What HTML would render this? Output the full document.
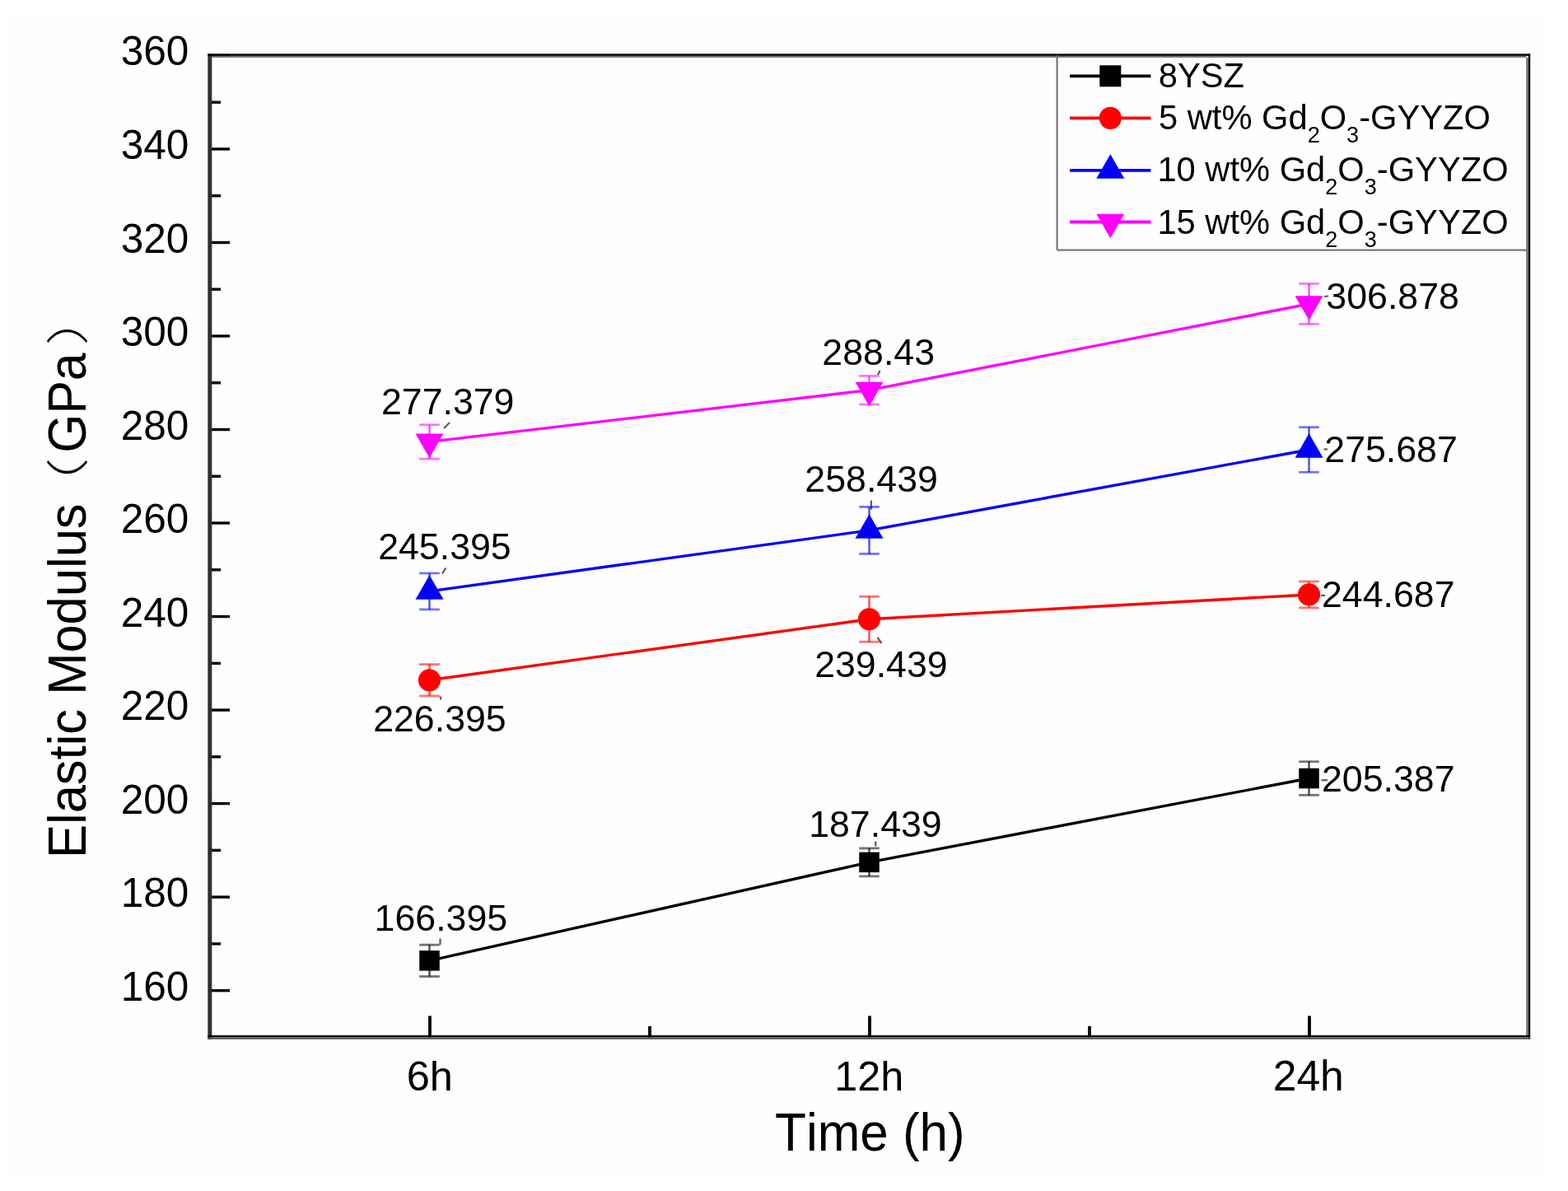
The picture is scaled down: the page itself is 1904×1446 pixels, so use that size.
<!DOCTYPE html>
<html><head><meta charset="utf-8"><title>Elastic Modulus vs Time</title>
<style>
html,body{margin:0;padding:0;background:#fff;}
body{width:1904px;height:1446px;overflow:hidden;}
svg{display:block;}
text{font-kerning:none;}
</style></head><body>
<svg width="1904" height="1446" viewBox="0 0 1904 1446">
<rect x="0" y="0" width="1904" height="1446" fill="#ffffff"/>
<rect x="6" y="13" width="1872" height="1419" fill="#fefefe"/>
<line x1="254.8" y1="1202.64" x2="279" y2="1202.64" stroke="#000" stroke-width="3.4"/>
<line x1="254.8" y1="1089.12" x2="279" y2="1089.12" stroke="#000" stroke-width="3.4"/>
<line x1="254.8" y1="975.60" x2="279" y2="975.60" stroke="#000" stroke-width="3.4"/>
<line x1="254.8" y1="862.08" x2="279" y2="862.08" stroke="#000" stroke-width="3.4"/>
<line x1="254.8" y1="748.56" x2="279" y2="748.56" stroke="#000" stroke-width="3.4"/>
<line x1="254.8" y1="635.04" x2="279" y2="635.04" stroke="#000" stroke-width="3.4"/>
<line x1="254.8" y1="521.52" x2="279" y2="521.52" stroke="#000" stroke-width="3.4"/>
<line x1="254.8" y1="408.00" x2="279" y2="408.00" stroke="#000" stroke-width="3.4"/>
<line x1="254.8" y1="294.48" x2="279" y2="294.48" stroke="#000" stroke-width="3.4"/>
<line x1="254.8" y1="180.96" x2="279" y2="180.96" stroke="#000" stroke-width="3.4"/>
<line x1="254.8" y1="67.44" x2="279" y2="67.44" stroke="#000" stroke-width="3.4"/>
<line x1="254.8" y1="1145.88" x2="268" y2="1145.88" stroke="#000" stroke-width="3.4"/>
<line x1="254.8" y1="1032.36" x2="268" y2="1032.36" stroke="#000" stroke-width="3.4"/>
<line x1="254.8" y1="918.84" x2="268" y2="918.84" stroke="#000" stroke-width="3.4"/>
<line x1="254.8" y1="805.32" x2="268" y2="805.32" stroke="#000" stroke-width="3.4"/>
<line x1="254.8" y1="691.80" x2="268" y2="691.80" stroke="#000" stroke-width="3.4"/>
<line x1="254.8" y1="578.28" x2="268" y2="578.28" stroke="#000" stroke-width="3.4"/>
<line x1="254.8" y1="464.76" x2="268" y2="464.76" stroke="#000" stroke-width="3.4"/>
<line x1="254.8" y1="351.24" x2="268" y2="351.24" stroke="#000" stroke-width="3.4"/>
<line x1="254.8" y1="237.72" x2="268" y2="237.72" stroke="#000" stroke-width="3.4"/>
<line x1="254.8" y1="124.20" x2="268" y2="124.20" stroke="#000" stroke-width="3.4"/>
<line x1="522.00" y1="1259.4" x2="522.00" y2="1233.4" stroke="#000" stroke-width="3.8"/>
<line x1="1056.00" y1="1259.4" x2="1056.00" y2="1233.4" stroke="#000" stroke-width="3.8"/>
<line x1="1590.00" y1="1259.4" x2="1590.00" y2="1233.4" stroke="#000" stroke-width="3.8"/>
<line x1="789.00" y1="1259.4" x2="789.00" y2="1245.8" stroke="#000" stroke-width="3.8"/>
<line x1="1323.00" y1="1259.4" x2="1323.00" y2="1245.8" stroke="#000" stroke-width="3.8"/>
<rect x="252.3" y="65.3" width="5" height="1196.5" fill="#303030"/>
<rect x="252.3" y="65.3" width="1605.8" height="2.6" fill="#050505"/>
<rect x="257.3" y="67.9" width="1596" height="2.0" fill="#707070"/>
<rect x="1855.9" y="65.3" width="2.3" height="1196.5" fill="#000"/>
<rect x="1853.2" y="69.9" width="2.7" height="1187.1" fill="#6e6e6e"/>
<rect x="252.3" y="1257.0" width="1605.8" height="2.3" fill="#000"/>
<rect x="252.3" y="1259.3" width="1605.8" height="2.5" fill="#555"/>
<g font-family='"Liberation Sans", Arial, sans-serif' fill="#000">
<text x="146.64" y="1214.68" font-size="49.5">160</text>
<text x="146.64" y="1101.16" font-size="49.5">180</text>
<text x="146.64" y="987.64" font-size="49.5">200</text>
<text x="146.64" y="874.12" font-size="49.5">220</text>
<text x="146.64" y="760.60" font-size="49.5">240</text>
<text x="146.64" y="647.08" font-size="49.5">260</text>
<text x="146.64" y="533.56" font-size="49.5">280</text>
<text x="146.64" y="420.04" font-size="49.5">300</text>
<text x="146.64" y="306.52" font-size="49.5">320</text>
<text x="146.64" y="193.00" font-size="49.5">340</text>
<text x="146.64" y="79.48" font-size="49.5">360</text>
<text x="493.77" y="1323.75" font-size="50.5">6h</text>
<text x="1013.17" y="1323.96" font-size="50.4">12h</text>
<text x="1545.73" y="1324.39" font-size="51.6">24h</text>
<g transform="translate(0 -68.73) scale(1 1.05)"><text x="941.04" y="1396.34" font-size="62">Time (h)</text></g>
</g>
<g transform="translate(103.6 1037.0) rotate(-90)" fill="#000"><text transform="scale(1 1.05)" x="-5.04" y="0" font-size="61.5" font-family='"Liberation Sans", Arial, sans-serif'>Elastic Modulus</text><text transform="translate(413.1 -2.6) scale(1.32 1)" x="0" y="0" font-size="51.8" font-weight="300" font-family='"Noto Sans CJK SC", "Noto Sans CJK JP", sans-serif'>（</text><text transform="scale(1 1.06)" x="487.36" y="0" font-size="60.5" font-family='"Liberation Sans", Arial, sans-serif'>GPa</text><text transform="translate(617.4 -3.0) scale(1.32 1)" x="0" y="0" font-size="51.8" font-weight="300" font-family='"Noto Sans CJK SC", "Noto Sans CJK JP", sans-serif'>）</text></g>
<g stroke="#000000" fill="none"><line x1="521.50" y1="1147.14" x2="521.50" y2="1185.54" stroke-width="2.4" stroke-opacity="0.7"/><line x1="509.20" y1="1147.14" x2="533.80" y2="1147.14" stroke-width="2.8" stroke-opacity="0.55"/><line x1="509.20" y1="1185.54" x2="533.80" y2="1185.54" stroke-width="2.8" stroke-opacity="0.55"/></g>
<g stroke="#000000" fill="none"><line x1="1055.50" y1="1029.90" x2="1055.50" y2="1063.90" stroke-width="2.4" stroke-opacity="0.7"/><line x1="1043.20" y1="1029.90" x2="1067.80" y2="1029.90" stroke-width="2.8" stroke-opacity="0.55"/><line x1="1043.20" y1="1063.90" x2="1067.80" y2="1063.90" stroke-width="2.8" stroke-opacity="0.55"/></g>
<g stroke="#000000" fill="none"><line x1="1589.50" y1="924.72" x2="1589.50" y2="965.32" stroke-width="2.4" stroke-opacity="0.7"/><line x1="1577.20" y1="924.72" x2="1601.80" y2="924.72" stroke-width="2.8" stroke-opacity="0.55"/><line x1="1577.20" y1="965.32" x2="1601.80" y2="965.32" stroke-width="2.8" stroke-opacity="0.55"/></g>
<polyline points="521.50,1166.34 1055.50,1046.90 1589.50,945.02" fill="none" stroke="#000000" stroke-width="3.4" stroke-linejoin="round"/>
<rect x="509.25" y="1154.09" width="24.50" height="24.50" fill="#000000"/>
<rect x="1043.25" y="1034.65" width="24.50" height="24.50" fill="#000000"/>
<rect x="1577.25" y="932.77" width="24.50" height="24.50" fill="#000000"/>
<g stroke="#ff0000" fill="none"><line x1="521.50" y1="806.58" x2="521.50" y2="844.98" stroke-width="2.4" stroke-opacity="0.7"/><line x1="509.20" y1="806.58" x2="533.80" y2="806.58" stroke-width="2.8" stroke-opacity="0.55"/><line x1="509.20" y1="844.98" x2="533.80" y2="844.98" stroke-width="2.8" stroke-opacity="0.55"/></g>
<g stroke="#ff0000" fill="none"><line x1="1055.50" y1="724.24" x2="1055.50" y2="779.24" stroke-width="2.4" stroke-opacity="0.7"/><line x1="1043.20" y1="724.24" x2="1067.80" y2="724.24" stroke-width="2.8" stroke-opacity="0.55"/><line x1="1043.20" y1="779.24" x2="1067.80" y2="779.24" stroke-width="2.8" stroke-opacity="0.55"/></g>
<g stroke="#ff0000" fill="none"><line x1="1589.50" y1="705.96" x2="1589.50" y2="737.96" stroke-width="2.4" stroke-opacity="0.7"/><line x1="1577.20" y1="705.96" x2="1601.80" y2="705.96" stroke-width="2.8" stroke-opacity="0.55"/><line x1="1577.20" y1="737.96" x2="1601.80" y2="737.96" stroke-width="2.8" stroke-opacity="0.55"/></g>
<polyline points="521.50,825.78 1055.50,751.74 1589.50,721.96" fill="none" stroke="#ff0000" stroke-width="3.4" stroke-linejoin="round"/>
<circle cx="521.50" cy="825.78" r="13.60" fill="#ff0000"/>
<circle cx="1055.50" cy="751.74" r="13.60" fill="#ff0000"/>
<circle cx="1589.50" cy="721.96" r="13.60" fill="#ff0000"/>
<g stroke="#0000ff" fill="none"><line x1="521.50" y1="695.94" x2="521.50" y2="739.94" stroke-width="2.4" stroke-opacity="0.7"/><line x1="509.20" y1="695.94" x2="533.80" y2="695.94" stroke-width="2.8" stroke-opacity="0.55"/><line x1="509.20" y1="739.94" x2="533.80" y2="739.94" stroke-width="2.8" stroke-opacity="0.55"/></g>
<g stroke="#0000ff" fill="none"><line x1="1055.50" y1="615.40" x2="1055.50" y2="672.40" stroke-width="2.4" stroke-opacity="0.7"/><line x1="1043.20" y1="615.40" x2="1067.80" y2="615.40" stroke-width="2.8" stroke-opacity="0.55"/><line x1="1043.20" y1="672.40" x2="1067.80" y2="672.40" stroke-width="2.8" stroke-opacity="0.55"/></g>
<g stroke="#0000ff" fill="none"><line x1="1589.50" y1="518.70" x2="1589.50" y2="573.30" stroke-width="2.4" stroke-opacity="0.7"/><line x1="1577.20" y1="518.70" x2="1601.80" y2="518.70" stroke-width="2.8" stroke-opacity="0.55"/><line x1="1577.20" y1="573.30" x2="1601.80" y2="573.30" stroke-width="2.8" stroke-opacity="0.55"/></g>
<polyline points="521.50,717.94 1055.50,643.90 1589.50,546.00" fill="none" stroke="#0000ff" stroke-width="3.4" stroke-linejoin="round"/>
<polygon points="521.50,698.27 538.50,727.77 504.50,727.77" fill="#0000ff"/>
<polygon points="1055.50,624.23 1072.50,653.73 1038.50,653.73" fill="#0000ff"/>
<polygon points="1589.50,526.33 1606.50,555.83 1572.50,555.83" fill="#0000ff"/>
<g stroke="#ff00ff" fill="none"><line x1="521.50" y1="515.70" x2="521.50" y2="557.10" stroke-width="2.4" stroke-opacity="0.7"/><line x1="509.20" y1="515.70" x2="533.80" y2="515.70" stroke-width="2.8" stroke-opacity="0.55"/><line x1="509.20" y1="557.10" x2="533.80" y2="557.10" stroke-width="2.8" stroke-opacity="0.55"/></g>
<g stroke="#ff00ff" fill="none"><line x1="1055.50" y1="456.37" x2="1055.50" y2="490.97" stroke-width="2.4" stroke-opacity="0.7"/><line x1="1043.20" y1="456.37" x2="1067.80" y2="456.37" stroke-width="2.8" stroke-opacity="0.55"/><line x1="1043.20" y1="490.97" x2="1067.80" y2="490.97" stroke-width="2.8" stroke-opacity="0.55"/></g>
<g stroke="#ff00ff" fill="none"><line x1="1589.50" y1="344.46" x2="1589.50" y2="393.46" stroke-width="2.4" stroke-opacity="0.7"/><line x1="1577.20" y1="344.46" x2="1601.80" y2="344.46" stroke-width="2.8" stroke-opacity="0.55"/><line x1="1577.20" y1="393.46" x2="1601.80" y2="393.46" stroke-width="2.8" stroke-opacity="0.55"/></g>
<polyline points="521.50,536.40 1055.50,473.67 1589.50,368.96" fill="none" stroke="#ff00ff" stroke-width="3.4" stroke-linejoin="round"/>
<polygon points="521.50,556.06 538.50,526.56 504.50,526.56" fill="#ff00ff"/>
<polygon points="1055.50,493.34 1072.50,463.84 1038.50,463.84" fill="#ff00ff"/>
<polygon points="1589.50,388.63 1606.50,359.13 1572.50,359.13" fill="#ff00ff"/>
<g stroke="#333" stroke-width="2.2" stroke-opacity="0.8">
<line x1="539" y1="520" x2="546" y2="513"/>
<line x1="537" y1="696.5" x2="541.5" y2="689.5"/>
<line x1="534.5" y1="845.5" x2="535.5" y2="849.5"/>
<line x1="534.5" y1="1139.5" x2="534.5" y2="1147"/>
<line x1="1066" y1="455" x2="1068.5" y2="450"/>
<line x1="1057.9" y1="607.6" x2="1057.9" y2="618.7"/>
<line x1="1065.5" y1="774" x2="1070.5" y2="781"/>
<line x1="1063.3" y1="1021.5" x2="1063.3" y2="1027.4"/>
<line x1="1608" y1="360" x2="1613" y2="359.5"/>
<line x1="1607.5" y1="545.5" x2="1612" y2="545.5"/>
<line x1="1604" y1="723" x2="1609" y2="723"/>
<line x1="1604.5" y1="947.2" x2="1612" y2="947.2"/>
</g>
<g font-family='"Liberation Sans", Arial, sans-serif' fill="#000">
<text x="462.94" y="503.39" font-size="44.7">277.379</text>
<text x="459.17" y="679.29" font-size="44.7">245.395</text>
<text x="453.17" y="887.84" font-size="44.7">226.395</text>
<text x="454.60" y="1130.29" font-size="44.7">166.395</text>
<text x="998.35" y="442.89" font-size="44.7">288.43</text>
<text x="977.34" y="596.89" font-size="44.7">258.439</text>
<text x="989.14" y="821.74" font-size="44.7">239.439</text>
<text x="982.17" y="1015.84" font-size="44.7">187.439</text>
<text x="1610.33" y="375.04" font-size="44.7">306.878</text>
<text x="1608.31" y="560.94" font-size="44.7">275.687</text>
<text x="1604.96" y="737.19" font-size="44.7">244.687</text>
<text x="1604.96" y="960.64" font-size="44.7">205.387</text>
</g>
<line x1="1283.6" y1="67.4" x2="1283.6" y2="303.6" stroke="#777" stroke-width="2.2"/>
<line x1="1283.6" y1="303.6" x2="1856.0" y2="303.6" stroke="#777" stroke-width="2.4"/>
<line x1="1299" y1="92.3" x2="1397.4" y2="92.3" stroke="#000000" stroke-width="3.8"/>
<rect x="1335.30" y="79.30" width="26.00" height="26.00" fill="#000000"/>
<line x1="1299" y1="143.3" x2="1397.4" y2="143.3" stroke="#ff0000" stroke-width="3.8"/>
<circle cx="1348.30" cy="143.30" r="13.60" fill="#ff0000"/>
<line x1="1299" y1="206.8" x2="1397.4" y2="206.8" stroke="#0000ff" stroke-width="3.8"/>
<polygon points="1348.30,187.13 1365.30,216.63 1331.30,216.63" fill="#0000ff"/>
<line x1="1299" y1="269.5" x2="1397.4" y2="269.5" stroke="#ff00ff" stroke-width="3.8"/>
<polygon points="1348.30,289.17 1365.30,259.67 1331.30,259.67" fill="#ff00ff"/>
<g font-family='"Liberation Sans", Arial, sans-serif' fill="#000" font-size="41.7">
<text x="1406.79" y="105.5">8YSZ</text>
<text x="1406.93" y="156.8">5 wt% Gd<tspan font-size="27" dy="16">2</tspan><tspan dy="-16">O</tspan><tspan font-size="27" dy="16">3</tspan><tspan dy="-16">-GYYZO</tspan></text>
<text x="1405.42" y="220.3">10 wt% Gd<tspan font-size="27" dy="16">2</tspan><tspan dy="-16">O</tspan><tspan font-size="27" dy="16">3</tspan><tspan dy="-16">-GYYZO</tspan></text>
<text x="1405.42" y="284.0">15 wt% Gd<tspan font-size="27" dy="16">2</tspan><tspan dy="-16">O</tspan><tspan font-size="27" dy="16">3</tspan><tspan dy="-16">-GYYZO</tspan></text>
</g>
</svg>
</body></html>
